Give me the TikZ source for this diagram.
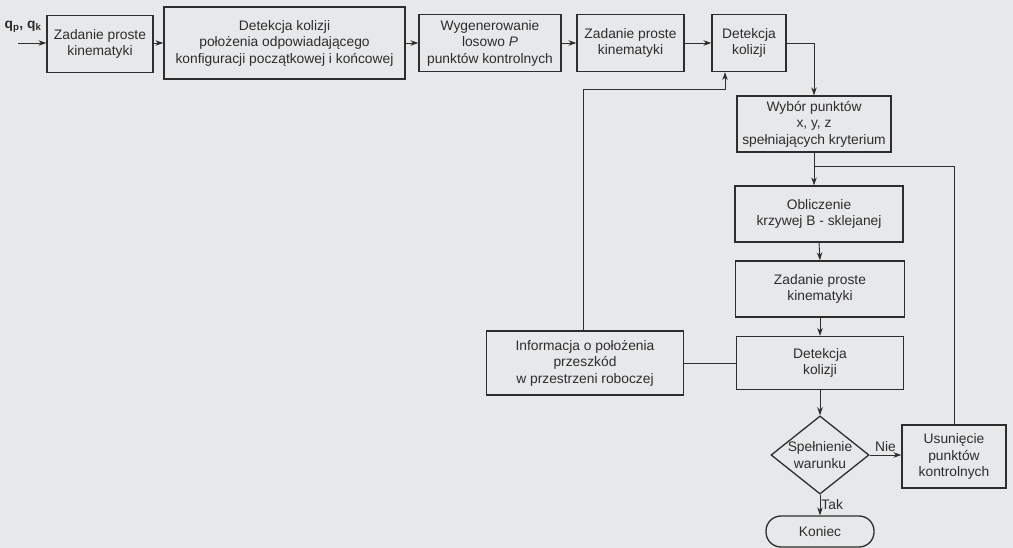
\documentclass[tikz,border=0pt]{standalone}
\usepackage{fontspec}
\setmainfont{Liberation Sans}
\usetikzlibrary{arrows.meta,shapes.geometric}
\definecolor{tlo}{RGB}{231,232,234}
\definecolor{kreska}{RGB}{45,45,45}

\tikzset{
  blok/.style={draw=kreska, line width=1.3pt, align=center, inner sep=0pt,
    text=kreska, font=\fontsize{13.8}{16.5}\selectfont},
  strz/.style={->, draw=kreska, line width=0.9pt},
  lin/.style={draw=kreska, line width=0.9pt},
}

\begin{document}
\begin{tikzpicture}[x=1pt, y=-1pt, >={Stealth[length=8pt,width=5.5pt]}]
  % tlo i ramka
  \fill[tlo] (0,0) rectangle (1013,548);
  \useasboundingbox (0,0) rectangle (1013,548);

  % gorny wiersz
  \node[blok, minimum width=106pt, minimum height=57pt] (zpk1) at (100,44) {Zadanie proste\\kinematyki};
  \node[blok, minimum width=241pt, minimum height=72pt] (dk1) at (284.5,43) {Detekcja kolizji\\położenia odpowiadającego\\konfiguracji początkowej i końcowej};
  \node[blok, minimum width=142pt, minimum height=57pt] (wyg) at (490,43) {Wygenerowanie\\losowo \textit{P}\\punktów kontrolnych};
  \node[blok, minimum width=107pt, minimum height=57pt] (zpk2) at (630.5,43) {Zadanie proste\\kinematyki};
  \node[blok, minimum width=74pt, minimum height=57pt] (dk2) at (749,43) {Detekcja\\kolizji};

  % kolumna prawa
  \node[blok, minimum width=154pt, minimum height=56pt] (wyb) at (814,124) {Wybór punktów\\x, y, z\\spełniających kryterium};
  \node[blok, minimum width=168pt, minimum height=56pt] (obl) at (819,214) {Obliczenie\\krzywej B - sklejanej};
  \node[blok, minimum width=169pt, minimum height=56pt] (zpk3) at (820,289) {Zadanie proste\\kinematyki};
  \node[blok, minimum width=167pt, minimum height=53pt] (dk3) at (820,363) {Detekcja\\kolizji};
  \node[blok, minimum width=197pt, minimum height=64pt] (inf) at (585,363) {Informacja o położenia\\przeszkód\\w przestrzeni roboczej};
  \node[blok, diamond, aspect=1.25, minimum width=98pt, minimum height=78pt] (spel) at (820,455) {Spełnienie\\warunku};
  \node[blok, minimum width=104pt, minimum height=63pt] (usu) at (954,456.5) {Usunięcie\\punktów\\kontrolnych};
  \node[blok, rounded corners=15pt, minimum width=108pt, minimum height=31pt] (kon) at (820,531.5) {Koniec};

  % wejscie
  \coordinate (wej) at (18,43);
  \node[text=kreska, font=\fontsize{13.8}{16.5}\selectfont\bfseries] (qq) at (23,27) {q\textsubscript{p}, q\textsubscript{k}};
  \draw[strz] (wej) -- (zpk1.west |- wej);

  % polaczenia gorne
  \draw[strz] (zpk1.east |- dk1.west) -- (dk1.west);
  \draw[strz] (dk1.east) -- (wyg.west);
  \draw[strz] (wyg.east) -- (zpk2.west);
  \draw[strz] (zpk2.east) -- (dk2.west);
  \draw[strz] (dk2.east) -| (wyb.north);

  % petla z usuniecia punktow
  \coordinate (wez) at (814,166);
  \draw[strz] (wyb.south) -- (wyb.south |- obl.north);
  \draw[lin] (usu.north) |- (wez);

  \draw[strz] (obl.south) -- (zpk3.north);
  \draw[strz] (zpk3.south) -- (dk3.north);
  \draw[strz] (dk3.south) -- (spel.north);

  % informacja o przeszkodach
  \coordinate (pow) at (725,89);
  \draw[strz] (inf.north -| 583,0) |- (pow) -- (pow |- dk2.south);
  \draw[lin] (inf.east) -- (dk3.west);

  % decyzja
  \draw[strz] (spel.east) -- node[above, text=kreska, font=\fontsize{13.8}{16.5}\selectfont] (nie) {Nie} (usu.west |- spel.east);
  \draw[strz] (spel.south) -- node[right, inner sep=1pt, text=kreska, font=\fontsize{13.8}{16.5}\selectfont] (tak) {Tak} (kon.north);

\end{tikzpicture}
\end{document}
